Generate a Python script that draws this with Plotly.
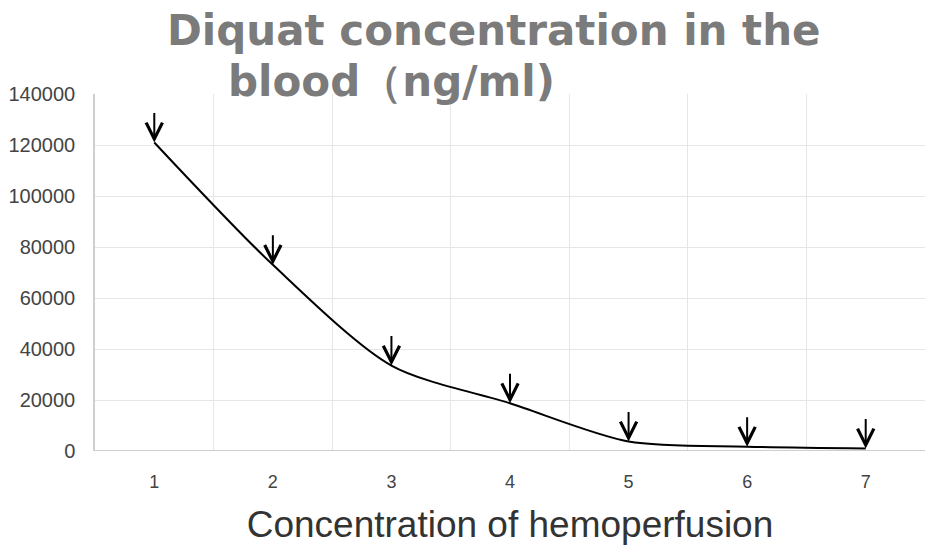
import plotly.graph_objects as go

# === data ===
sessions = [1, 2, 3, 4, 5, 6, 7]
diquat_ng_ml = [121000, 73000, 33500, 18700, 3700, 1700, 1000]
y_ticks = [0, 20000, 40000, 60000, 80000, 100000, 120000, 140000]
title_line1 = "Diquat concentration in the"
title_line2 = "blood（ng/ml)"
x_title = "Concentration of hemoperfusion"

fig = go.Figure()

fig.add_trace(go.Scatter(
    x=sessions,
    y=diquat_ng_ml,
    mode="lines",
    line=dict(color="black", width=2, shape="spline", smoothing=0.8),
    showlegend=False,
    hoverinfo="x+y"
))

# downward arrows over every sample
annotations = []
for s, v in zip(sessions, diquat_ng_ml):
    annotations.append(dict(
        x=s, y=v, xref="x", yref="y",
        ax=0, ay=-31, text="",
        showarrow=True, arrowhead=5, arrowsize=1.6, arrowwidth=2,
        arrowcolor="black", standoff=0
    ))

# the two title lines sit at different offsets, so place them by hand
title_font = dict(family="DejaVu Sans", size=42, color="#7b7b7b")
annotations.append(dict(
    xref="paper", yref="paper", x=0.481, y=1.0, yshift=64,
    xanchor="center", yanchor="middle", showarrow=False,
    text="<b>" + title_line1 + "</b>", font=title_font
))
annotations.append(dict(
    xref="paper", yref="paper", x=0.158, y=1.0, yshift=13,
    xanchor="left", yanchor="middle", showarrow=False,
    text="<b>" + title_line2 + "</b>", font=title_font
))

# page body adds ~8px, margins below make up for it
fig.update_layout(
    width=935, height=553,
    margin=dict(l=87, r=18, t=86, b=110),
    paper_bgcolor="white",
    plot_bgcolor="white",
    annotations=annotations,
    xaxis=dict(
        range=[0.5, 7.5],
        tickvals=sessions,
        ticks="",
        showgrid=False,
        zeroline=False,
        showline=False,
        automargin=False,
        ticklabelstandoff=18,
        tickfont=dict(family="Liberation Sans, Arial", size=18, color="#444"),
        title=dict(text=x_title, standoff=20,
                   font=dict(family="Liberation Sans, Arial", size=37, color="#333")),
        minor=dict(tickvals=[0.5, 1.5, 2.5, 3.5, 4.5, 5.5, 6.5, 7.5],
                   showgrid=True, gridcolor="#e6e6e6", gridwidth=1, ticks=""),
    ),
    yaxis=dict(
        range=[0, 140000],
        tickvals=y_ticks,
        tickformat="d",
        showgrid=True,
        gridcolor="#e6e6e6",
        zeroline=False,
        showline=True,
        linecolor="#cfcfcf",
        linewidth=1.5,
        ticks="",
        automargin=False,
        ticklabelstandoff=14,
        tickfont=dict(family="Liberation Sans, Arial", size=20, color="#444"),
    ),
)

# darker baseline at zero like the original
fig.add_hline(y=0, line=dict(color="#cfcfcf", width=2))

fig.write_html("out.html")
